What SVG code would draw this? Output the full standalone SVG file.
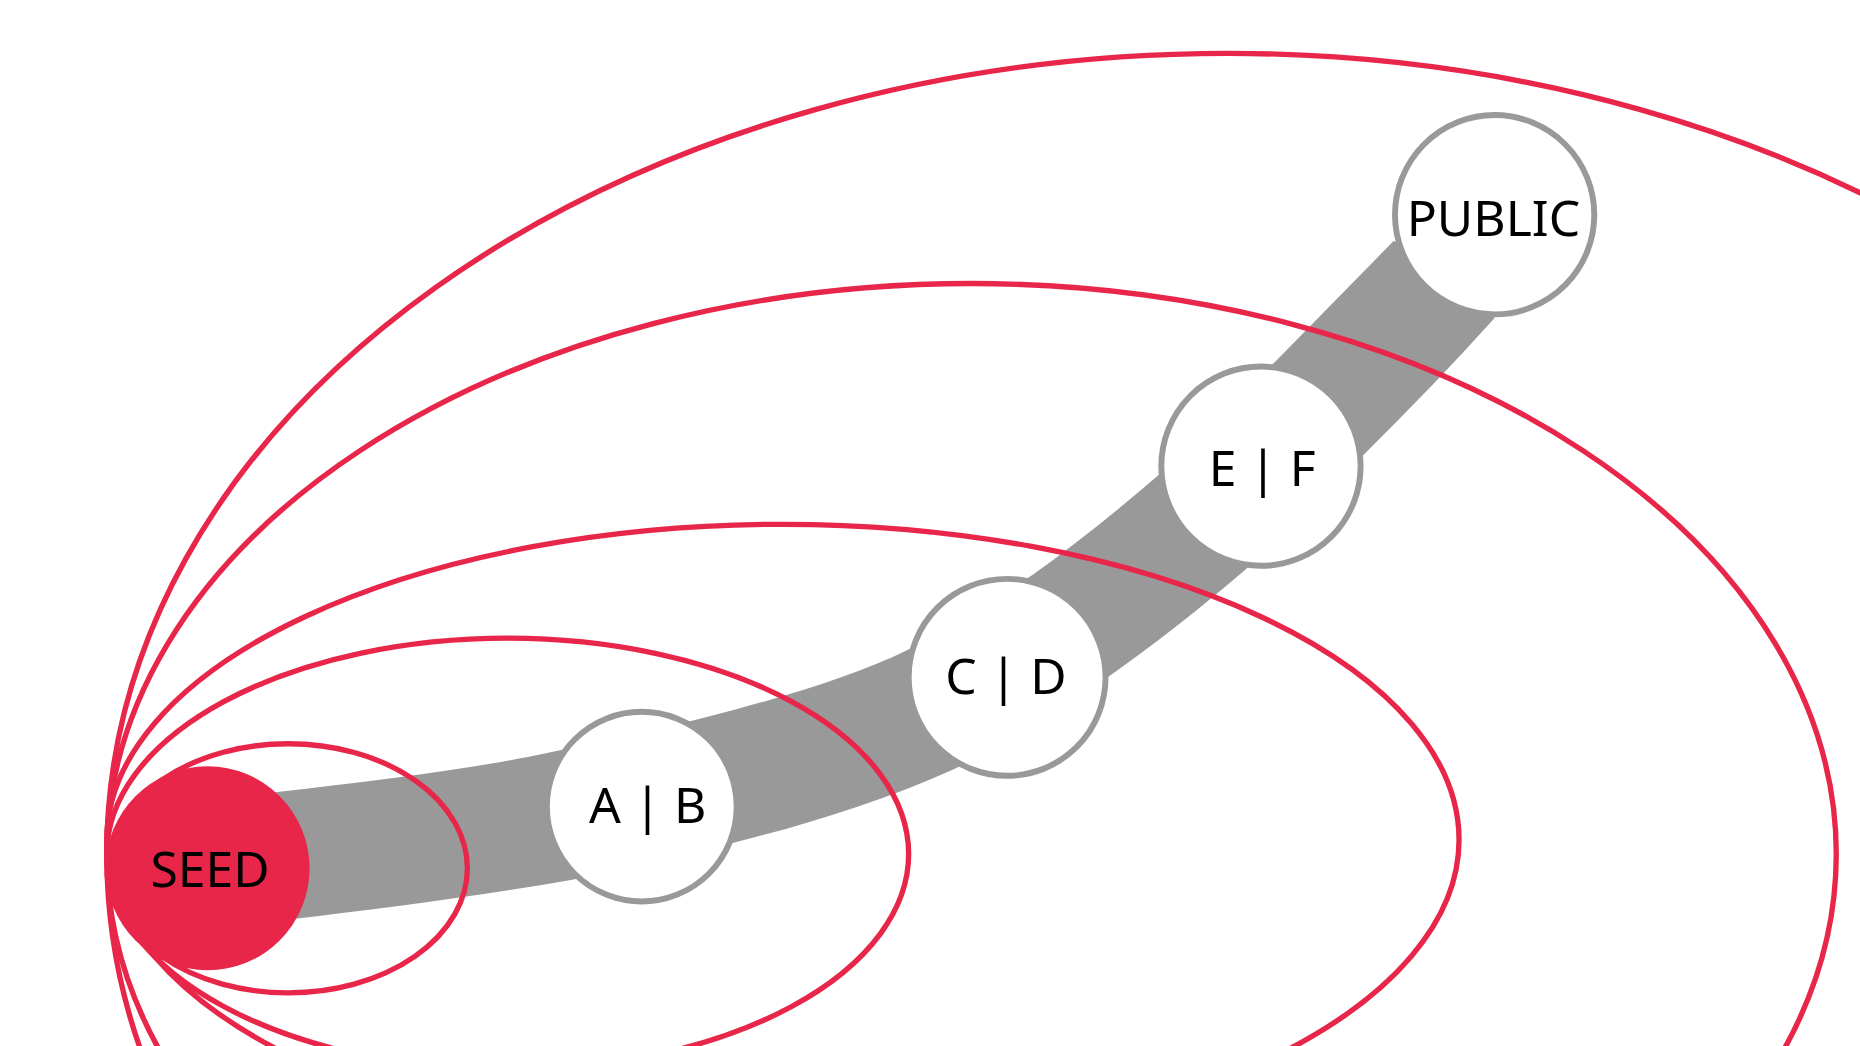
<svg xmlns="http://www.w3.org/2000/svg" width="1860" height="1046" viewBox="0 0 1860 1046">
<style>
.ring{fill:none;stroke:#e8264a;stroke-width:4.5}
.node{fill:#fff;stroke:#999;stroke-width:5}
.lbl{font-family:"Noto Sans","DejaVu Sans",sans-serif;font-size:42px;fill:#000;text-anchor:middle;dominant-baseline:central}
</style>
<rect width="1860" height="1046" fill="#fff"/>
<g transform="scale(1.18622)">
<g id="connectors">
<path d="M230,668 C320,658 400,648 465,634 C510,625 550,616 590,606 C660,588 720,570 765,548 C800,532 835,508 870,485 C905,460 940,432 975,402 C1010,372 1040,340 1075,305 L1175,203 L1260,268 C1225,307 1188,345 1150,383 C1118,415 1085,450 1050,480 C1015,510 975,542 935,570 C895,598 850,626 805,648 C745,675 680,695 620,710 C575,722 530,733 480,742 C400,756 320,766 245,775 Z" fill="#999"/>
</g>
<g id="seed"><circle cx="175" cy="732" r="86" fill="#e8264a"/><text class="lbl" x="177" y="732">SEED</text></g>
<g id="ab"><circle class="node" cx="541" cy="680" r="80"/><text class="lbl" x="546" y="678">A | B</text></g>
<g id="cd"><circle class="node" cx="849" cy="571" r="83"/><text class="lbl" x="848" y="569">C | D</text></g>
<g id="ef"><circle class="node" cx="1063" cy="393" r="84"/><text class="lbl" x="1064" y="394">E | F</text></g>
<g id="public"><circle class="node" cx="1260" cy="181" r="84"/><text class="lbl" x="1259" y="183">PUBLIC</text></g>
<g id="rings">
<ellipse class="ring" cx="243" cy="732" rx="151" ry="105"/>
<ellipse class="ring" cx="428" cy="720" rx="338" ry="182"/>
<ellipse class="ring" cx="660" cy="708" rx="570" ry="266"/>
<ellipse class="ring" cx="819" cy="720" rx="729" ry="481"/>
<ellipse class="ring" cx="1035" cy="720" rx="945" ry="675"/>
</g>
</g>
</svg>
